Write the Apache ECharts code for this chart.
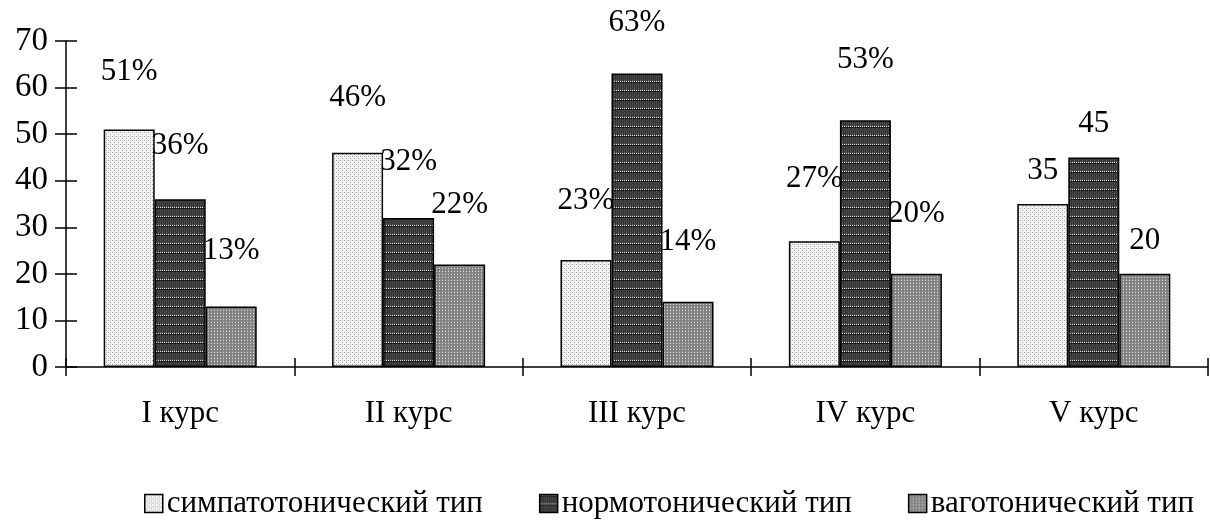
<!DOCTYPE html>
<html>
<head>
<meta charset="utf-8">
<script src="https://cdn.jsdelivr.net/npm/echarts@6/dist/echarts.min.js"></script>
<style>
  html, body { margin: 0; padding: 0; background: #ffffff; }
  #chart { width: 1210px; height: 523px; }
</style>
</head>
<body>
<div id="chart"></div>
<script>
// Курсы студентов
const categories = ['I курс', 'II курс', 'III курс', 'IV курс', 'V курс'];
const seriesNames = ['симпатотонический тип', 'нормотонический тип', 'ваготонический тип'];

// Распределение по типу вегетативного тонуса
const sympatho = [51, 46, 23, 27, 35];
const normo = [36, 32, 63, 53, 45];
const vago = [13, 22, 14, 20, 20];

// Подписи над столбцами
const sympathoLabels = ['51%', '46%', '23%', '27%', '35'];
const normoLabels = ['36%', '32%', '63%', '53%', '45'];
const vagoLabels = ['13%', '22%', '14%', '20%', '20'];

const yTicks = [0, 10, 20, 30, 40, 50, 60, 70];

// Подъём подписи над вершиной столбца (до центра текста), px
const sympathoLift = [58, 55, 59, 62, 33];
const normoLift = [53, 56, 51, 60, 34];
const vagoLift = [56, 60, 60, 60, 33];

const FONT = '"Liberation Serif", "Times New Roman", serif';
const LABEL_SIZE = 31;

// Штриховые заливки столбцов
function tile(w, h, bg, draw) {
  const c = document.createElement('canvas');
  c.width = w; c.height = h;
  const ctx = c.getContext('2d');
  ctx.fillStyle = bg;
  ctx.fillRect(0, 0, w, h);
  draw(ctx);
  return c;
}
const lightDots = tile(4, 4, '#f4f4f4', ctx => {
  ctx.fillStyle = '#a0a0a0';
  ctx.fillRect(0, 0, 1, 1);
  ctx.fillRect(2, 2, 1, 1);
  ctx.fillStyle = '#cccccc';
  ctx.fillRect(2, 0, 1, 1);
});
const darkLines = tile(4, 9, '#353535', ctx => {
  ctx.fillStyle = '#575757';
  for (let y = 2; y < 9; y += 2) { ctx.fillRect(0, y, 1, 1); ctx.fillRect(2, Math.min(y + 1, 8), 1, 1); }
  ctx.fillStyle = '#e6e6e6';
  ctx.fillRect(0, 0, 1, 1);
  ctx.fillRect(2, 0, 1, 1);
  ctx.fillStyle = '#181818';
  ctx.fillRect(0, 1, 4, 1);
});
const grayDots = tile(3, 3, '#828282', ctx => {
  ctx.fillStyle = '#dcdcdc';
  ctx.fillRect(1, 1, 1, 1);
  ctx.fillStyle = '#989898';
  ctx.fillRect(1, 0, 1, 1);
});

function makeSeries(name, values, labels, lifts, pattern) {
  return {
    name: name,
    type: 'bar',
    barGap: '0%',
    barCategoryGap: '33%',
    itemStyle: {
      color: { image: pattern, repeat: 'repeat' },
      borderColor: '#000000',
      borderWidth: 1.5
    },
    data: values.map((v, i) => ({
      value: v,
      label: { distance: lifts[i] - LABEL_SIZE / 2 }
    })),
    label: {
      show: true,
      position: 'top',
      fontFamily: FONT,
      fontSize: LABEL_SIZE,
      color: '#000000',
      formatter: p => labels[p.dataIndex]
    }
  };
}

const chart = echarts.init(document.getElementById('chart'), null, { renderer: 'canvas' });

const yBase = {
  type: 'value',
  min: 0,
  max: 70,
  interval: 10,
  splitLine: { show: false }
};

chart.setOption({
  backgroundColor: '#ffffff',
  animation: false,
  textStyle: { fontFamily: FONT },
  grid: { left: 66, right: 2, top: 41, bottom: 156 },
  legend: {
    left: 139,
    top: 483,
    width: 1071,
    itemWidth: 18,
    itemHeight: 18,
    itemGap: 56,
    icon: 'rect',
    itemStyle: { borderColor: '#000000', borderWidth: 1.5 },
    textStyle: { fontFamily: FONT, fontSize: 31, color: '#000000', padding: [0, 0, 0, -1] },
    data: seriesNames
  },
  xAxis: [
    {
      type: 'category',
      data: categories,
      axisLine: { lineStyle: { color: '#000000', width: 1.5 } },
      axisTick: { show: true, length: 9, inside: false, lineStyle: { color: '#000000', width: 1.5 } },
      axisLabel: { fontFamily: FONT, fontSize: LABEL_SIZE, color: '#000000', margin: 31 }
    },
    {
      type: 'category',
      data: categories,
      position: 'bottom',
      axisLine: { show: false },
      axisTick: { show: true, length: 9, inside: true, lineStyle: { color: '#000000', width: 1.5 } },
      axisLabel: { show: false }
    }
  ],
  yAxis: [
    Object.assign({}, yBase, {
      axisLine: { show: true, lineStyle: { color: '#000000', width: 1.5 } },
      axisTick: { show: true, length: 11, inside: false, lineStyle: { color: '#000000', width: 1.5 } },
      axisLabel: {
        fontFamily: FONT, fontSize: 33, color: '#000000', margin: 18,
        formatter: v => (yTicks.indexOf(v) >= 0 ? String(v) : '')
      }
    }),
    Object.assign({}, yBase, {
      position: 'left',
      axisLine: { show: false },
      axisTick: { show: true, length: 11, inside: true, lineStyle: { color: '#000000', width: 1.5 } },
      axisLabel: { show: false }
    })
  ],
  series: [
    makeSeries(seriesNames[0], sympatho, sympathoLabels, sympathoLift, lightDots),
    makeSeries(seriesNames[1], normo, normoLabels, normoLift, darkLines),
    makeSeries(seriesNames[2], vago, vagoLabels, vagoLift, grayDots)
  ]
});
</script>
</body>
</html>
